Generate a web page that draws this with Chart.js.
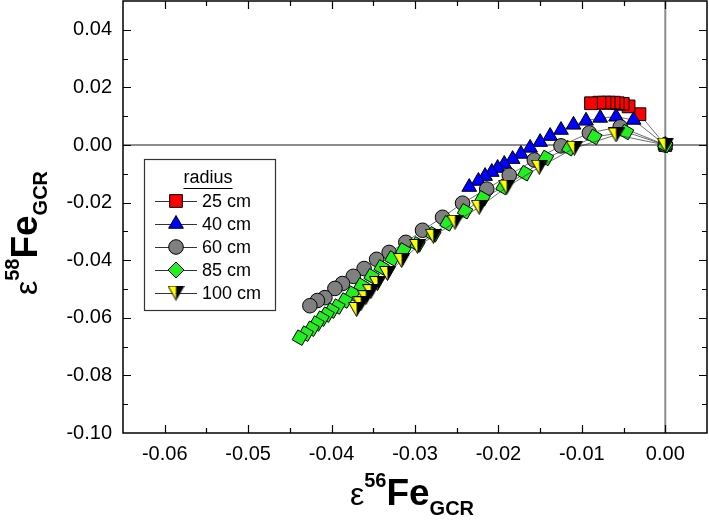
<!DOCTYPE html>
<html>
<head>
<meta charset="utf-8">
<title>eps58Fe vs eps56Fe</title>
<script src="https://cdn.jsdelivr.net/npm/chart.js"></script>
<style>
    html, body { margin: 0; padding: 0; background: #fff; }
    #wrap { width: 709px; height: 522px; position: relative; }
</style>
</head>
<body>
<div id="wrap"><canvas id="chart"></canvas></div>
<script>
// tick labels
const xTicks = [-0.06, -0.05, -0.04, -0.03, -0.02, -0.01, 0.00];
const yTicks = [0.04, 0.02, 0.00, -0.02, -0.04, -0.06, -0.08, -0.10];
const legendTitle = 'radius';
const radii = ['25 cm', '40 cm', '60 cm', '85 cm', '100 cm'];

// each series starts at the origin and then runs from right to left
const fe56_25 = [0, -0.0031, -0.0044, -0.0051, -0.0057, -0.0062, -0.0068, -0.0073, -0.0079, -0.0089];
const fe58_25 = [0, 0.0107, 0.0134, 0.0143, 0.0145, 0.0147, 0.0147, 0.0147, 0.0147, 0.0145];

const fe56_40 = [0, -0.0038, -0.0059, -0.0078, -0.0095, -0.0110, -0.0125, -0.0138, -0.0150, -0.0162, -0.0173, -0.0183, -0.0193, -0.0201, -0.0208, -0.0216, -0.0224, -0.0235];
const fe58_40 = [0, 0.0087, 0.0098, 0.0094, 0.0084, 0.0070, 0.0052, 0.0031, 0.0010, -0.0010, -0.0031, -0.0049, -0.0066, -0.0080, -0.0094, -0.0108, -0.0125, -0.0146];

const fe56_60 = [0, -0.0054, -0.0091, -0.0125, -0.0157, -0.0187, -0.0214, -0.0243, -0.0267, -0.0291, -0.0311, -0.0331, -0.0346, -0.0361, -0.0374, -0.0387, -0.0396, -0.0408, -0.0417, -0.0426];
const fe58_60 = [0, 0.0063, 0.0042, -0.0003, -0.0052, -0.0105, -0.0153, -0.0202, -0.0251, -0.0296, -0.0338, -0.0373, -0.0397, -0.0429, -0.0456, -0.0481, -0.0498, -0.0530, -0.0540, -0.0558];

const fe56_85 = [0, -0.0047, -0.0085, -0.0115, -0.0143, -0.0168, -0.0194, -0.0219, -0.0240, -0.0261, -0.0278, -0.0297, -0.0314, -0.0327, -0.0340, -0.0352, -0.0364, -0.0375, -0.0384, -0.0393, -0.0400, -0.0406, -0.0412, -0.0418, -0.0424, -0.0431, -0.0438];
const fe58_85 = [0, 0.0045, 0.0028, -0.0011, -0.0045, -0.0098, -0.0146, -0.0185, -0.0230, -0.0272, -0.0310, -0.0345, -0.0366, -0.0394, -0.0425, -0.0456, -0.0488, -0.0516, -0.0540, -0.0561, -0.0575, -0.0589, -0.0603, -0.0620, -0.0638, -0.0655, -0.0669];

const fe56_100 = [0, -0.0059, -0.0109, -0.0151, -0.0190, -0.0223, -0.0252, -0.0278, -0.0297, -0.0316, -0.0333, -0.0345, -0.0353, -0.0359, -0.0365, -0.0370];
const fe58_100 = [0, 0.0035, -0.0011, -0.0077, -0.0146, -0.0216, -0.0268, -0.0317, -0.0352, -0.0401, -0.0446, -0.0481, -0.0509, -0.0530, -0.0551, -0.0571];

const FONT = '"Liberation Sans", Arial, sans-serif';

function pts(xs, ys) {
    return xs.map((x, i) => ({ x: x, y: ys[i] }));
}

// half yellow / half black down triangle used for 100 cm
function halfTriangle() {
    const c = document.createElement('canvas');
    c.width = 17; c.height = 15;
    const g = c.getContext('2d');
    g.fillStyle = '#ffff00';
    g.beginPath(); g.moveTo(0.5, 0.5); g.lineTo(8.5, 0.5); g.lineTo(8.5, 14.5); g.closePath(); g.fill();
    g.fillStyle = '#000';
    g.beginPath(); g.moveTo(8.5, 0.5); g.lineTo(16.5, 0.5); g.lineTo(8.5, 14.5); g.closePath(); g.fill();
    g.strokeStyle = '#000'; g.lineWidth = 1;
    g.beginPath(); g.moveTo(0.5, 0.5); g.lineTo(16.5, 0.5); g.lineTo(8.5, 14.5); g.closePath(); g.stroke();
    return c;
}
const tri100 = halfTriangle();

const styles = [
    { pointStyle: 'rect', rotation: 0, radius: 9, color: '#ff0000', legendRotation: 0 },
    { pointStyle: 'triangle', rotation: 0, radius: 8.5, color: '#0000ff', legendRotation: 0 },
    { pointStyle: 'circle', rotation: 0, radius: 7.3, color: '#808080', legendRotation: 0 },
    { pointStyle: 'rect', rotation: 30, radius: 8, color: '#22ee22', legendRotation: 45 },
    { pointStyle: tri100, rotation: 0, radius: 8, color: '#ffff00', legendRotation: 0 }
];
const seriesData = [pts(fe56_25, fe58_25), pts(fe56_40, fe58_40), pts(fe56_60, fe58_60), pts(fe56_85, fe58_85), pts(fe56_100, fe58_100)];

const datasets = radii.map((r, i) => ({
    label: r,
    data: seriesData[i],
    showLine: true,
    borderColor: '#333',
    borderWidth: 0.7,
    pointStyle: styles[i].pointStyle,
    pointRotation: styles[i].rotation,
    pointRadius: styles[i].radius,
    pointHoverRadius: styles[i].radius,
    pointBackgroundColor: styles[i].color,
    pointBorderColor: '#000',
    pointBorderWidth: 1,
    order: radii.length - 1 - i
}));

function drawRich(ctx, parts, cx, cy, rotate) {
    ctx.save();
    ctx.translate(cx, cy);
    if (rotate) ctx.rotate(-Math.PI / 2);
    let total = 0;
    parts.forEach(p => { ctx.font = p.font; total += ctx.measureText(p.t).width; });
    let x = -total / 2;
    ctx.fillStyle = '#000';
    ctx.textBaseline = 'alphabetic';
    ctx.textAlign = 'left';
    parts.forEach(p => {
        ctx.font = p.font;
        ctx.fillText(p.t, x, p.dy);
        x += ctx.measureText(p.t).width;
    });
    ctx.restore();
}

const framePlugin = {
    id: 'frame',
    beforeDatasetsDraw(chart) {
        const { ctx, chartArea: a, scales: { x, y } } = chart;
        ctx.save();
        ctx.strokeStyle = '#8c8c8c';
        ctx.lineWidth = 2;
        const x0 = x.getPixelForValue(0), y0 = y.getPixelForValue(0);
        ctx.beginPath();
        ctx.moveTo(a.left, y0); ctx.lineTo(a.right, y0);
        ctx.moveTo(x0, a.top); ctx.lineTo(x0, a.bottom);
        ctx.stroke();
        ctx.restore();
    },
    afterDraw(chart) {
        const { ctx, chartArea: a, scales: { x, y } } = chart;
        ctx.save();
        ctx.strokeStyle = '#000';
        ctx.lineWidth = 1.5;
        ctx.strokeRect(a.left, a.top, a.right - a.left, a.bottom - a.top);

        // inward ticks on all four sides
        ctx.lineWidth = 1.2;
        ctx.beginPath();
        for (let v = -0.065; v <= 0.0051; v += 0.005) {
            const px = Math.round(x.getPixelForValue(v)) + 0.5;
            const major = Math.abs(Math.round(v * 200)) % 2 === 0;
            const len = major ? 8 : 5;
            if (px <= a.left + 1 || px >= a.right - 1) continue;
            ctx.moveTo(px, a.bottom); ctx.lineTo(px, a.bottom - len);
            ctx.moveTo(px, a.top); ctx.lineTo(px, a.top + len);
        }
        for (let v = -0.10; v <= 0.0501; v += 0.01) {
            const py = Math.round(y.getPixelForValue(v)) + 0.5;
            const major = Math.abs(Math.round(v * 100)) % 2 === 0;
            const len = major ? 8 : 5;
            if (py <= a.top + 1 || py >= a.bottom - 1) continue;
            ctx.moveTo(a.left, py); ctx.lineTo(a.left + len, py);
            ctx.moveTo(a.right, py); ctx.lineTo(a.right - len, py);
        }
        ctx.stroke();

        // legend box
        const lx = 144.5, ly = 159.5, lw = 131, lh = 151;
        ctx.fillStyle = '#fff';
        ctx.fillRect(lx, ly, lw, lh);
        ctx.strokeStyle = '#333';
        ctx.lineWidth = 1.2;
        ctx.strokeRect(lx, ly, lw, lh);
        ctx.fillStyle = '#000';
        ctx.font = '18px ' + FONT;
        ctx.textAlign = 'center';
        ctx.textBaseline = 'middle';
        ctx.fillText(legendTitle, 208, 178);
        const tw = ctx.measureText(legendTitle).width;
        ctx.fillRect(208 - tw / 2, 188, tw, 1);
        const rows = [201, 224, 247, 270, 293];
        radii.forEach((r, i) => {
            const yy = rows[i];
            ctx.strokeStyle = '#333';
            ctx.lineWidth = 1;
            ctx.beginPath();
            ctx.moveTo(155, yy + 0.5); ctx.lineTo(197, yy + 0.5);
            ctx.stroke();
            ctx.fillStyle = styles[i].color;
            ctx.strokeStyle = '#000';
            ctx.lineWidth = 1;
            Chart.helpers.drawPoint(ctx, {
                pointStyle: styles[i].pointStyle,
                rotation: styles[i].legendRotation,
                radius: styles[i].radius,
                borderWidth: 1
            }, 176, yy);
            ctx.fillStyle = '#000';
            ctx.font = '18px ' + FONT;
            ctx.textAlign = 'left';
            ctx.textBaseline = 'middle';
            ctx.fillText(r, 202, yy + 1);
        });

        // axis titles with super/subscripts
        const parts = (iso) => [
            { t: 'ε', font: '32px ' + FONT, dy: 0 },
            { t: iso, font: 'bold 20px ' + FONT, dy: -18 },
            { t: 'Fe', font: 'bold 37px ' + FONT, dy: 0 },
            { t: 'GCR', font: 'bold 20px ' + FONT, dy: 10 }
        ];
        drawRich(ctx, parts('56'), (a.left + a.right) / 2 - 3, 505, false);
        drawRich(ctx, parts('58'), 37, 233, true);
        ctx.restore();
    }
};

function noPad(s) {
    s.paddingTop = 0; s.paddingBottom = 0; s.paddingLeft = 0; s.paddingRight = 0;
}

new Chart(document.getElementById('chart').getContext('2d'), {
    type: 'scatter',
    data: { datasets: datasets },
    options: {
        responsive: true,
        maintainAspectRatio: false,
        animation: false,
        devicePixelRatio: 1,
        layout: { padding: { top: 1, right: 2, left: 0, bottom: 0 }, autoPadding: false },
        plugins: { legend: { display: false }, tooltip: { enabled: false } },
        scales: {
            x: {
                type: 'linear', min: -0.065, max: 0.005,
                afterBuildTicks: s => { s.ticks = xTicks.map(v => ({ value: v })); },
                afterFit: s => { s.height = 89; noPad(s); },
                grid: { display: false, drawTicks: false },
                border: { display: false },
                ticks: { color: '#000', padding: 9, maxRotation: 0, autoSkip: false,
                         font: { family: FONT, size: 20 }, callback: v => v.toFixed(2) }
            },
            y: {
                type: 'linear', min: -0.10, max: 0.05,
                afterBuildTicks: s => { s.ticks = yTicks.map(v => ({ value: v })); },
                afterFit: s => { s.width = 123; noPad(s); },
                grid: { display: false, drawTicks: false },
                border: { display: false },
                ticks: { color: '#000', padding: 11, autoSkip: false,
                         font: { family: FONT, size: 20 }, callback: v => v.toFixed(2) }
            }
        }
    },
    plugins: [framePlugin]
});
</script>
</body>
</html>
